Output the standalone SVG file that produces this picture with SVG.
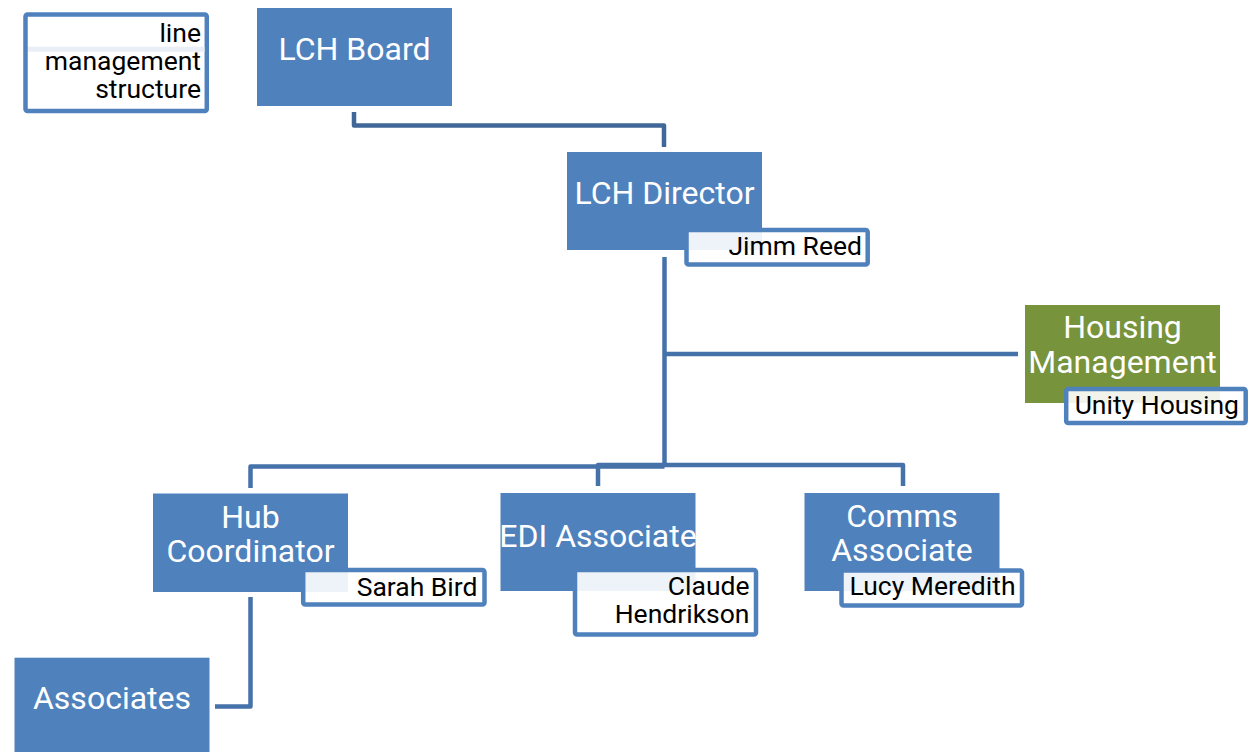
<svg xmlns="http://www.w3.org/2000/svg" width="1248" height="752" viewBox="0 0 1248 752">
<style>
.box{fill:#4f81bd}
.green{fill:#77933c}
.lbl{fill:#ffffff;fill-opacity:0.9;stroke:#4f81bd;stroke-width:4.5}
.t{font-family:Roboto,"Liberation Sans",sans-serif;font-size:32px;fill:#ffffff;text-anchor:middle}
.n{font-family:Roboto,"Liberation Sans",sans-serif;font-size:26.5px;fill:#000000;text-anchor:end}
.conn{fill:none;stroke:#4572a9;stroke-width:4.5;stroke-linejoin:round}
.dark{stroke:#3f6898}
</style>
<rect width="1248" height="752" fill="#ffffff"/>
<g id="connectors">
<path class="conn dark" d="M354,112 V125.5 H664 V147"/>
<path class="conn" d="M664.5,257 V466"/>
<path class="conn" d="M664.5,354 H1018"/>
<path class="conn" d="M250.5,488 V466.5 H664.5"/>
<path class="conn" d="M598,486 V465 H903 V486"/>
<path class="conn" d="M250.5,597 V706.5 H215"/>
</g>
<g id="legend">
<rect x="25.5" y="14.5" width="181.3" height="96.6" rx="2" fill="#ffffff" stroke="#4f81bd" stroke-width="4.5"/>
<rect x="28" y="46.7" width="176.5" height="5" fill="#e9eef7"/>
<text class="n" x="201" y="41.7">line</text>
<text class="n" x="201" y="70">management</text>
<text class="n" x="201" y="98.3">structure</text>
</g>
<g id="lch-board">
<rect class="box" x="257" y="8" width="195" height="98"/>
<text class="t" x="354.5" y="60">LCH Board</text>
</g>
<g id="lch-director">
<rect class="box" x="567" y="152" width="195" height="98"/>
<text class="t" x="664.5" y="204">LCH Director</text>
<rect class="lbl" x="686.5" y="230" width="181.2" height="34.5" rx="2"/>
<text class="n" x="862" y="255">Jimm Reed</text>
</g>
<g id="housing-management">
<rect class="green" x="1025" y="305" width="195" height="98"/>
<text class="t" x="1122.5" y="338">Housing</text>
<text class="t" x="1122.5" y="373">Management</text>
<rect class="lbl" x="1066.2" y="389" width="179.5" height="34" rx="2"/>
<text class="n" x="1239" y="414">Unity Housing</text>
</g>
<g id="hub-coordinator">
<rect class="box" x="153" y="493.5" width="195" height="98.5"/>
<text class="t" x="250.5" y="528">Hub</text>
<text class="t" x="250.5" y="562">Coordinator</text>
<rect class="lbl" x="303.2" y="570" width="181.3" height="34.5" rx="2"/>
<text class="n" x="477.5" y="595.5">Sarah Bird</text>
</g>
<g id="edi-associate">
<rect class="box" x="500.5" y="493" width="195" height="98"/>
<text class="t" x="598" y="547">EDI Associate</text>
<rect class="lbl" x="575" y="570" width="181" height="64.5" rx="2"/>
<text class="n" x="749.5" y="595">Claude</text>
<text class="n" x="749.5" y="622.7">Hendrikson</text>
</g>
<g id="comms-associate">
<rect class="box" x="804.5" y="493" width="195" height="98"/>
<text class="t" x="902" y="527">Comms</text>
<text class="t" x="902" y="561">Associate</text>
<rect class="lbl" x="841.5" y="570.5" width="180.5" height="35" rx="2"/>
<text class="n" x="1015.5" y="595">Lucy Meredith</text>
</g>
<g id="associates">
<rect class="box" x="14.5" y="657.7" width="195" height="98"/>
<text class="t" x="112" y="709.3">Associates</text>
</g>
</svg>
